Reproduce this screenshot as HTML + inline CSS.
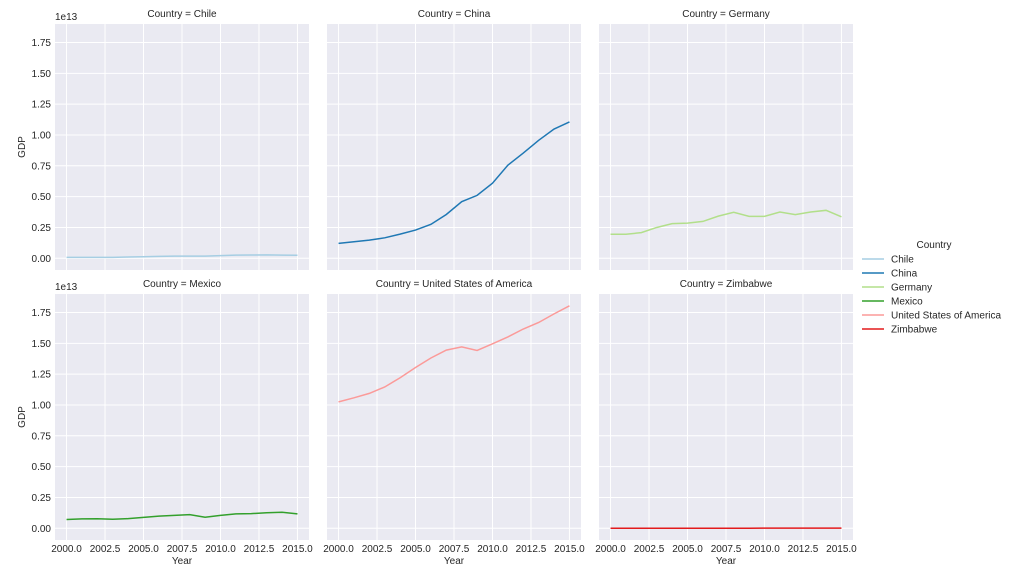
<!DOCTYPE html>
<html><head><meta charset="utf-8"><style>
body{margin:0;background:#fff;}
svg{display:block;font-family:"Liberation Sans",sans-serif;}
</style></head><body>
<svg id="c" width="1011" height="576"></svg>
<script>
const years=[2000,2001,2002,2003,2004,2005,2006,2007,2008,2009,2010,2011,2012,2013,2014,2015];
const countries=["Chile","China","Germany","Mexico","United States of America","Zimbabwe"];
const colors=["#a6cee3","#1f78b4","#b2df8a","#33a02c","#fb9a99","#e31a1c"];
const chile=[0.078,0.071,0.070,0.076,0.100,0.123,0.155,0.173,0.180,0.172,0.218,0.252,0.267,0.278,0.260,0.243];
const china=[1.21,1.34,1.47,1.66,1.96,2.29,2.75,3.55,4.59,5.10,6.09,7.55,8.53,9.57,10.48,11.06];
const germany=[1.95,1.95,2.08,2.50,2.81,2.85,2.99,3.42,3.73,3.40,3.40,3.75,3.54,3.75,3.89,3.36];
const mexico=[0.71,0.76,0.77,0.73,0.78,0.88,0.99,1.05,1.11,0.90,1.05,1.17,1.19,1.26,1.30,1.17];
const usa=[10.25,10.58,10.94,11.46,12.21,13.04,13.81,14.45,14.71,14.42,14.96,15.52,16.16,16.69,17.39,18.04];
const zimbabwe=[0.007,0.007,0.006,0.006,0.006,0.006,0.005,0.005,0.004,0.008,0.010,0.012,0.014,0.015,0.016,0.016];
const series=[chile,china,germany,mexico,usa,zimbabwe];
const yTicks=[0,0.25,0.5,0.75,1.0,1.25,1.5,1.75];
const xTicks=[2000,2002.5,2005,2007.5,2010,2012.5,2015];
const NS="http://www.w3.org/2000/svg";
const svg=document.getElementById('c');
const FS=10;
function mk(t,a,p){const e=document.createElementNS(NS,t);for(const k in a)e.setAttribute(k,a[k]);(p||svg).appendChild(e);return e;}
const W=254,H=246,lefts=[55,327,599],tops=[24,294];
const xmin=1999.25,xmax=2015.75,ymin=-0.095,ymax=1.90;
for(let i=0;i<6;i++){
  const L=lefts[i%3],T=tops[Math.floor(i/3)];
  const xs=v=>L+(v-xmin)/(xmax-xmin)*W;
  const ys=v=>T+H-(v-ymin)/(ymax-ymin)*H;
  const g=mk('g',{});
  
  
  mk('rect',{x:L,y:T,width:W,height:H,fill:'#eaeaf2'},g);
  xTicks.forEach(t=>{mk('line',{x1:xs(t),x2:xs(t),y1:T,y2:T+H,stroke:'#fff','stroke-width':1},g);});
  yTicks.forEach(t=>{mk('line',{x1:L,x2:L+W,y1:ys(t),y2:ys(t),stroke:'#fff','stroke-width':1},g);});
  const tt=mk('text',{x:L+W/2,y:T-7,'text-anchor':'middle','font-size':FS,fill:'#262626'},g);
  tt.textContent='Country = '+countries[i];
  
  
  if(i%3==0){
    yTicks.forEach(t=>{const e=mk('text',{x:L-4,y:ys(t)+3.5,'text-anchor':'end','font-size':FS,fill:'#262626'},g);e.textContent=t.toFixed(2);});
    const ex=mk('text',{x:L,y:T-4,'font-size':FS,fill:'#262626'},g);ex.textContent='1e13';
    const yl=mk('text',{x:0,y:0,transform:`translate(25,${T+H/2}) rotate(-90)`,'text-anchor':'middle','font-size':FS,fill:'#262626'},g);yl.textContent='GDP';
    
    
  }
  if(i>=3){
    xTicks.forEach(t=>{const e=mk('text',{x:xs(t),y:T+H+12,'text-anchor':'middle','font-size':FS,fill:'#262626'},g);e.textContent=t.toFixed(1);});
    const xl=mk('text',{x:L+W/2,y:T+H+24,'text-anchor':'middle','font-size':FS,fill:'#262626'},g);xl.textContent='Year';
    
    
  }
  const d=series[i].map((v,j)=>(j?'L':'M')+xs(years[j]).toFixed(2)+','+ys(v/10).toFixed(2)).join('');
  const p=mk('path',{d:d,fill:'none',stroke:colors[i],'stroke-width':1.5},g);
  
  
}
const lg=mk('g',{});


const lt=mk('text',{x:934,y:248,'text-anchor':'middle','font-size':FS,fill:'#262626'},lg);lt.textContent='Country';
countries.forEach((c,i)=>{
  const y=259+i*14;
  const e=mk('g',{},lg);
  
  
  mk('line',{x1:862,x2:884,y1:y,y2:y,stroke:colors[i],'stroke-width':1.5},e);
  const t=mk('text',{x:891,y:y+3.5,'font-size':FS,fill:'#262626'},e);t.textContent=c;
});
</script>
</body></html>
